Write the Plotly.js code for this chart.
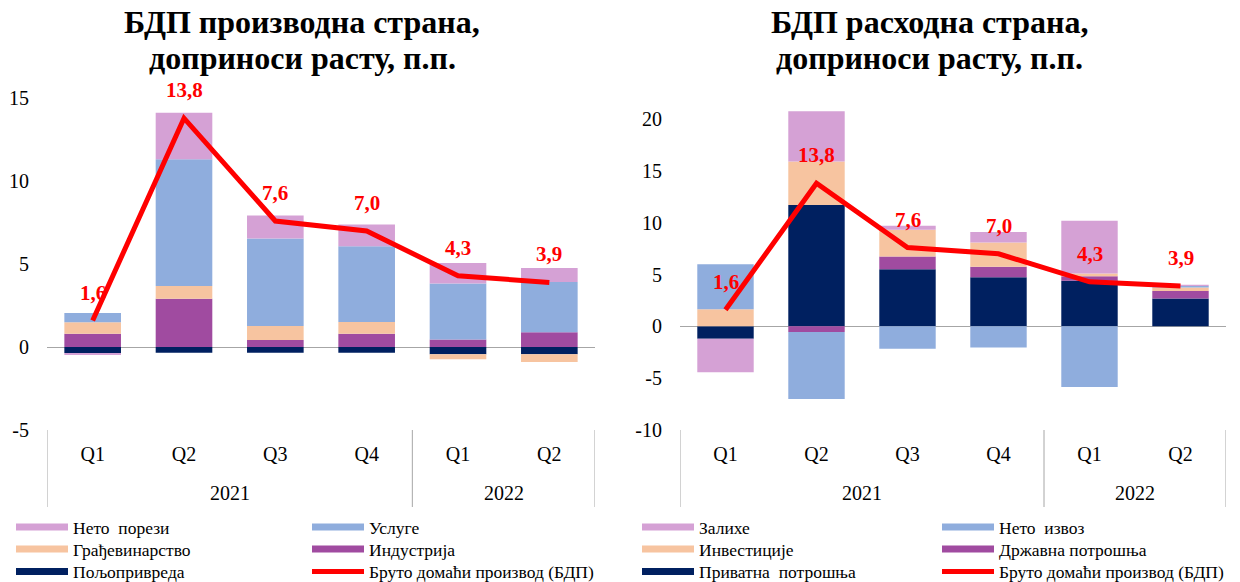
<!DOCTYPE html>
<html>
<head>
<meta charset="utf-8">
<script src="https://cdn.plot.ly/plotly-3.0.1.min.js"></script>
<style>html,body{margin:0;padding:0;background:#fff;}#chart{width:1240px;height:582px;}</style>
</head>
<body>
<div id="chart"></div>
<script>
// Categories
const quarters = ["Q1", "Q2", "Q3", "Q4", "Q1", "Q2"];
const years = ["2021", "2021", "2021", "2021", "2022", "2022"];

// GDP growth (line) and its labels
const gdp = [1.6, 13.8, 7.6, 7.0, 4.3, 3.9];
const gdpLabels = ["1,6", "13,8", "7,6", "7,0", "4,3", "3,9"];

// Production side contributions, p.p.
const agriculture = [-0.35, -0.34, -0.34, -0.34, -0.44, -0.44];
const industry = [0.80, 2.92, 0.42, 0.81, 0.45, 0.89];
const construction = [0.70, 0.76, 0.85, 0.70, -0.30, -0.46];
const services = [0.55, 7.65, 5.28, 4.57, 3.38, 3.04];
const netTaxes = [-0.13, 2.80, 1.38, 1.31, 1.24, 0.84];

// Expenditure side contributions, p.p.
const privateCons = [-1.20, 11.71, 5.52, 4.74, 4.39, 2.68];
const govCons = [0.00, -0.55, 1.23, 1.00, 0.45, 0.74];
const investment = [1.65, 4.20, 2.57, 2.36, 0.26, 0.33];
const netExports = [4.35, -6.45, -2.16, -2.03, -5.85, 0.15];
const stocks = [-3.23, 4.84, 0.39, 1.00, 5.09, 0.12];

// Axis ticks
const yTicksLeft = [-5, 0, 5, 10, 15];
const yTickTextLeft = ["-5", "0", "5", "10", "15"];
const yTicksRight = [-10, -5, 0, 5, 10, 15, 20];
const yTickTextRight = ["-10", "-5", "0", "5", "10", "15", "20"];

// Labels
const titleLeft = ["БДП производна страна,", "доприноси расту, п.п."];
const titleRight = ["БДП расходна страна,", "доприноси расту, п.п."];
const prodNames = ["Пољопривреда", "Индустрија", "Грађевинарство", "Услуге", "Нето  порези"];
const expNames = ["Приватна  потрошња", "Државна потрошња", "Инвестиције", "Нето  извоз", "Залихе"];
const gdpName = "Бруто домаћи производ (БДП)";

const colors = ["#002060", "#A04BA0", "#F7C4A0", "#8FADDD", "#D5A1D5"];
const RED = "#FF0000";
const FONT = "Liberation Serif, Times New Roman, serif";
const xIdx = quarters.map((q, i) => i);

const traces = [];
const annotations = [];
const shapes = [];
let legendCounter = 0;
const legendDefs = {};

function legendId() {
  legendCounter += 1;
  return legendCounter === 1 ? "legend" : "legend" + legendCounter;
}

// legend grid row centres (px)
const rowY = [527, 549, 571.5];

function addSide(series, names, xa, ya, colX) {
  series.forEach((vals, i) => {
    traces.push({
      type: "bar", x: xIdx, y: vals, name: names[i],
      xaxis: xa, yaxis: ya, showlegend: false,
      marker: {color: colors[i], line: {width: 0}}
    });
  });
  traces.push({
    type: "scatter", mode: "lines", x: xIdx, y: gdp, name: gdpName,
    xaxis: xa, yaxis: ya, showlegend: false,
    line: {color: RED, width: 5}
  });
  // legend layout: col1 = last, third, first series; col2 = fourth, second series, GDP
  const entries = [
    [0, 0, names[4], colors[4], 7], [1, 0, names[3], colors[3], 7],
    [0, 1, names[2], colors[2], 7], [1, 1, names[1], colors[1], 7],
    [0, 2, names[0], colors[0], 7], [1, 2, gdpName, RED, 5]
  ];
  entries.forEach(([c, r, nm, col, w]) => {
    const id = legendId();
    legendDefs[id] = {x: colX[c], y: rowY[r]};
    traces.push({
      type: "scatter", mode: "lines", x: [null], y: [null], name: nm,
      xaxis: "x3", yaxis: "y3", legend: id,
      line: {color: col, width: w}
    });
  });
  // value labels above the GDP line
  gdp.forEach((v, i) => {
    annotations.push({
      xref: xa, yref: ya, x: xIdx[i], y: v, text: "<b>" + gdpLabels[i] + "</b>",
      showarrow: false, yshift: 28,
      font: {family: FONT, size: 21, color: RED}
    });
  });
  // year group labels and dividers
  const groups = [];
  years.forEach((yr, i) => {
    if (!groups.length || groups[groups.length - 1].yr !== yr) groups.push({yr: yr, first: i, last: i});
    else groups[groups.length - 1].last = i;
  });
  groups.forEach((g, k) => {
    annotations.push({
      xref: xa, yref: "paper", x: (xIdx[g.first] + xIdx[g.last]) / 2, y: 1 - 493/582,
      yanchor: "middle", text: g.yr, showarrow: false,
      font: {family: FONT, size: 20, color: "#000"}
    });
    const bounds = k === 0 ? [g.first - 0.5, g.last + 0.5] : [g.last + 0.5];
    bounds.forEach(b => shapes.push({
      type: "line", xref: xa, yref: "paper", x0: b, x1: b,
      y0: 1 - 430/582, y1: 1 - 507/582,
      line: {color: "#A6A6A6", width: 1}
    }));
  });
}
addSide([agriculture, industry, construction, services, netTaxes], prodNames, "x", "y", [11, 307]);
addSide([privateCons, govCons, investment, netExports, stocks], expNames, "x2", "y2", [637, 937]);

function addTitle(lines, cx) {
  [22, 58].forEach((yc, i) => annotations.push({
    xref: "paper", yref: "paper", x: cx/1240, y: 1 - yc/582,
    xanchor: "center", yanchor: "middle", showarrow: false,
    text: "<b>" + lines[i] + "</b>",
    font: {family: FONT, size: 32, color: "#000"}
  }));
}
addTitle(titleLeft, 302);
addTitle(titleRight, 929);

const xaxisBase = {
  type: "linear", range: [-0.5, 5.5], showgrid: false, showline: false, zeroline: false,
  ticks: "", tickvals: xIdx, ticktext: quarters, ticklabelstandoff: 10,
  tickfont: {family: FONT, size: 20, color: "#000"}
};
const yaxisBase = {
  showgrid: false, showline: false, zeroline: true, zerolinecolor: "#A6A6A6", zerolinewidth: 1,
  ticks: "", ticklabelstandoff: 17,
  tickfont: {family: FONT, size: 20, color: "#000"},
  domain: [152/582, 483.7/582]
};
const legendBase = {
  orientation: "v", bgcolor: "rgba(0,0,0,0)", xanchor: "left", yanchor: "middle",
  font: {family: FONT, size: 17.5, color: "#000"}, itemwidth: 52
};

const layout = {
  width: 1240, height: 582,
  margin: {l: 0, r: 0, t: 0, b: 0, autoexpand: false},
  font: {family: FONT, color: "#000"},
  paper_bgcolor: "#fff", plot_bgcolor: "#fff",
  barmode: "relative", bargap: 0.38,
  xaxis: Object.assign({}, xaxisBase, {domain: [47/1240, 595/1240], anchor: "y"}),
  xaxis2: Object.assign({}, xaxisBase, {domain: [680/1240, 1226/1240], anchor: "y2"}),
  yaxis: Object.assign({}, yaxisBase, {range: [-5, 15], tickvals: yTicksLeft, ticktext: yTickTextLeft, anchor: "x"}),
  yaxis2: Object.assign({}, yaxisBase, {range: [-10, 22], tickvals: yTicksRight, ticktext: yTickTextRight, anchor: "x2"}),
  xaxis3: {visible: false, domain: [0, 0.01], anchor: "y3"},
  yaxis3: {visible: false, domain: [0, 0.01], anchor: "x3"},
  annotations: annotations,
  shapes: shapes,
  showlegend: true,
  hovermode: false
};
Object.keys(legendDefs).forEach(id => {
  layout[id] = Object.assign({}, legendBase, {x: legendDefs[id].x / 1240, y: 1 - legendDefs[id].y / 582});
});

Plotly.newPlot("chart", traces, layout, {displayModeBar: false, staticPlot: true});
</script>
</body>
</html>
